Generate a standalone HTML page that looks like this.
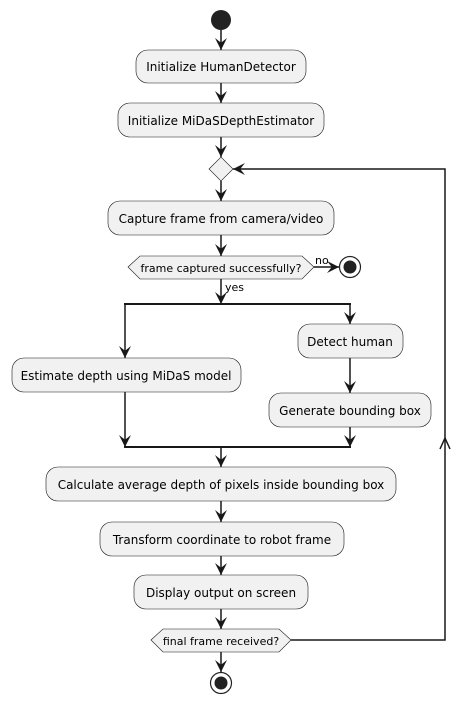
<!DOCTYPE html>
<html><head><meta charset="utf-8"><style>
html,body{margin:0;padding:0;background:#fff;}
svg{display:block;}
text{font-family:"DejaVu Sans","Liberation Sans",sans-serif;font-size:12px;fill:#000;}
</style></head><body>
<svg width="470" height="705" viewBox="0 0 470 705" xmlns="http://www.w3.org/2000/svg">
<defs>
<marker id="a" markerUnits="userSpaceOnUse" markerWidth="12" markerHeight="12" refX="10" refY="5" orient="auto" viewBox="0 0 10 10">
<path d="M0,0 L10,5 L0,10 L4,5 Z" fill="#181818"/>
</marker>
</defs>
<g stroke="#181818" stroke-width="1.5" fill="none">
<line x1="221" y1="30" x2="221" y2="50" marker-end="url(#a)"/>
<line x1="221" y1="83" x2="221" y2="103" marker-end="url(#a)"/>
<line x1="221" y1="137" x2="221" y2="157" marker-end="url(#a)"/>
<line x1="221" y1="181" x2="221" y2="201" marker-end="url(#a)"/>
<line x1="221" y1="235" x2="221" y2="256" marker-end="url(#a)"/>
<line x1="314" y1="267" x2="339" y2="267" marker-end="url(#a)"/>
<line x1="221" y1="279" x2="221" y2="304" marker-end="url(#a)"/>
<line x1="125" y1="304" x2="125" y2="358" marker-end="url(#a)"/>
<line x1="350" y1="304" x2="350" y2="324" marker-end="url(#a)"/>
<line x1="350" y1="358" x2="350" y2="393" marker-end="url(#a)"/>
<line x1="125" y1="392" x2="125" y2="447" marker-end="url(#a)"/>
<line x1="350" y1="427" x2="350" y2="447" marker-end="url(#a)"/>
<line x1="221" y1="447" x2="221" y2="467" marker-end="url(#a)"/>
<line x1="221" y1="501" x2="221" y2="522" marker-end="url(#a)"/>
<line x1="221" y1="556" x2="221" y2="575" marker-end="url(#a)"/>
<line x1="221" y1="609" x2="221" y2="629" marker-end="url(#a)"/>
<line x1="221" y1="652" x2="221" y2="672" marker-end="url(#a)"/>
<polyline points="291,640 445,640 445,169 233,169" marker-end="url(#a)"/>
<polyline points="440,449 445,438 450,449"/>
</g>
<line x1="124" y1="304" x2="351" y2="304" stroke="#181818" stroke-width="2"/>
<line x1="124" y1="447" x2="351" y2="447" stroke="#181818" stroke-width="2"/>
<circle cx="221" cy="20" r="10" fill="#222"/>
<g fill="#f1f1f1" stroke="#181818" stroke-width="0.6">
<rect x="136" y="50" width="170" height="33" rx="12"/>
<rect x="118" y="103" width="206" height="34" rx="12"/>
<polygon points="209,169 221,157 233,169 221,181"/>
<rect x="108" y="201" width="226" height="34" rx="12"/>
<polygon points="128,267 140,256 302,256 314,267 302,279 140,279"/>
<rect x="12" y="358" width="229" height="34" rx="12"/>
<rect x="298" y="324" width="105" height="34" rx="12"/>
<rect x="269" y="393" width="162" height="34" rx="12"/>
<rect x="46" y="467" width="350" height="34" rx="12"/>
<rect x="100" y="522" width="244" height="34" rx="12"/>
<rect x="134" y="575" width="174" height="34" rx="12"/>
<polygon points="151,640 163,629 279,629 291,640 279,652 163,652"/>
</g>
<circle cx="350" cy="267" r="10.5" fill="#fff" stroke="#222" stroke-width="1.2"/>
<circle cx="350" cy="267" r="6.5" fill="#222"/>
<circle cx="221" cy="683" r="10.5" fill="#fff" stroke="#222" stroke-width="1.2"/>
<circle cx="221" cy="683" r="6.5" fill="#222"/>
<g text-anchor="middle">
<text x="221" y="71">Initialize HumanDetector</text>
<text x="221" y="125">Initialize MiDaSDepthEstimator</text>
<text x="221" y="223">Capture frame from camera/video</text>
<text x="221" y="272" style="font-size:11px">frame captured successfully?</text>
<text x="126" y="380">Estimate depth using MiDaS model</text>
<text x="350" y="346">Detect human</text>
<text x="350" y="415">Generate bounding box</text>
<text x="221" y="489">Calculate average depth of pixels inside bounding box</text>
<text x="222" y="544">Transform coordinate to robot frame</text>
<text x="221" y="597">Display output on screen</text>
<text x="221" y="645" style="font-size:11px">final frame received?</text>
</g>
<text x="315" y="264" style="font-size:11px">no</text>
<text x="225" y="291" style="font-size:11px">yes</text>
</svg>
</body></html>
